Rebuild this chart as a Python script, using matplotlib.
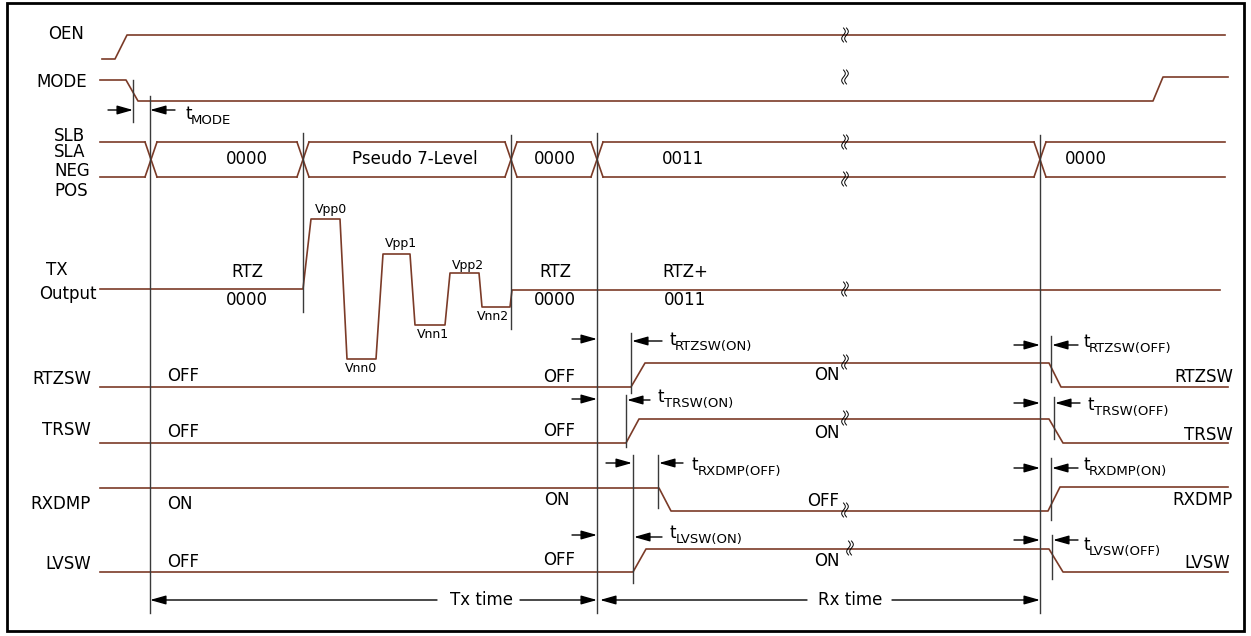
import numpy as np
import matplotlib.pyplot as plt
from matplotlib.patches import Rectangle

plt.rcParams['font.family'] = ['DejaVu Sans']

SIG = '#7b3b28'
GRID = '#3a3a3a'
FS = 12

# ---- waveforms (pixel-ish timing units, y grows downward) ----
oen_x = [102, 115, 127, 1225]
oen_y = [59, 59, 35, 35]
mode_x = [100, 126, 138, 1153, 1163, 1228]
mode_y = [80, 80, 101, 101, 77, 77]

bus_edges = [151, 303, 511, 597, 1040]
bus_labels = ['0000', 'Pseudo 7-Level', '0000', '0011', '0000']
bus_label_x = [247, 415, 555, 683, 1086]
bus_start, bus_end = 100, 1225
bus_top, bus_bot = 142, 177

tx_x = [100, 303, 311, 340, 347, 376, 383, 410, 415, 445, 450, 479, 482, 510, 512, 1220]
tx_y = [289, 289, 219, 219, 359, 359, 254, 254, 325, 325, 273, 273, 307, 307, 290, 290]
lvl_names = ['Vpp0', 'Vnn0', 'Vpp1', 'Vnn1', 'Vpp2', 'Vnn2']
lvl_x = [331, 361, 401, 433, 468, 493]
lvl_y = [209, 369, 243, 335, 265, 316]

rtzsw_x = [100, 631, 645, 1049, 1061, 1228]
rtzsw_y = [387, 387, 363, 363, 387, 387]
trsw_x = [100, 626, 639, 1049, 1063, 1228]
trsw_y = [443, 443, 419, 419, 443, 443]
rxdmp_x = [100, 659, 671, 1048, 1060, 1228]
rxdmp_y = [488, 488, 511, 511, 487, 487]
lvsw_x = [100, 633, 646, 1049, 1063, 1228]
lvsw_y = [572, 572, 549, 549, 572, 572]

# reference / timing lines (x, y0, y1)
vlines = [(133, 80, 122), (150, 96, 613), (303, 133, 312), (511, 135, 329),
          (597, 133, 613), (1040, 135, 613),
          (631, 333, 393), (626, 395, 447), (658, 455, 508), (633, 455, 583),
          (1051, 336, 382), (1054, 397, 439), (1051, 458, 520), (1052, 535, 579)]

# short timing arrows (tail x, head x, y)
arrows = [(108, 133, 110), (175, 150, 110),
          (572, 597, 339), (662, 632, 341),
          (572, 597, 399), (650, 627, 400),
          (606, 632, 463), (683, 659, 463),
          (572, 597, 535), (662, 634, 537),
          (1014, 1040, 345), (1078, 1052, 345),
          (1014, 1040, 403), (1080, 1055, 403),
          (1014, 1040, 468), (1078, 1052, 468),
          (1014, 1040, 540), (1078, 1053, 540)]

# timing parameter labels (x, baseline of t, subscript)
tparams = [(185, 119, 'MODE'),
           (669, 345, 'RTZSW(ON)'), (658, 402, 'TRSW(ON)'),
           (692, 470, 'RXDMP(OFF)'), (670, 538, 'LVSW(ON)'),
           (1083, 347, 'RTZSW(OFF)'), (1088, 410, 'TRSW(OFF)'),
           (1083, 470, 'RXDMP(ON)'), (1083, 550, 'LVSW(OFF)')]

# break marks (x, y)
breaks = [(845, 35), (845, 77), (845, 142), (845, 179), (845, 289),
          (845, 362), (845, 418), (845, 510), (850, 548)]

# left signal names (text, x, y, ha)
sig_names = [('OEN', 48, 34, 'left'), ('MODE', 36, 82, 'left'),
             ('SLB', 54, 136, 'left'), ('SLA', 54, 152, 'left'),
             ('NEG', 54, 171, 'left'), ('POS', 54, 191, 'left'),
             ('TX', 46, 270, 'left'), ('Output', 97, 294, 'right'),
             ('RTZSW', 91, 379, 'right'), ('TRSW', 91, 430, 'right'),
             ('RXDMP', 91, 504, 'right'), ('LVSW', 91, 564, 'right')]

# state labels (text, x, y, ha)
states = [('RTZ', 247, 272, 'center'), ('0000', 247, 300, 'center'),
          ('RTZ', 555, 272, 'center'), ('0000', 555, 300, 'center'),
          ('RTZ+', 685, 272, 'center'), ('0011', 685, 300, 'center'),
          ('OFF', 167, 376, 'left'), ('OFF', 575, 377, 'right'), ('ON', 827, 375, 'center'),
          ('OFF', 167, 432, 'left'), ('OFF', 575, 431, 'right'), ('ON', 827, 433, 'center'),
          ('ON', 167, 504, 'left'), ('ON', 570, 500, 'right'), ('OFF', 823, 501, 'center'),
          ('OFF', 167, 562, 'left'), ('OFF', 575, 560, 'right'), ('ON', 827, 561, 'center'),
          ('RTZSW', 1233, 377, 'right'), ('TRSW', 1233, 435, 'right'),
          ('RXDMP', 1233, 500, 'right'), ('LVSW', 1230, 563, 'right')]

# bottom span arrows
span_y = 600
spans = [(150, 597, 'Tx time', 482, 437, 520), (600, 1040, 'Rx time', 850, 807, 892)]


fig = plt.figure(figsize=(12.51, 6.36), dpi=100)
ax = fig.add_axes([0, 0, 1, 1])
ax.set_xlim(0, 1251)
ax.set_ylim(636, 0)
ax.axis('off')

ax.add_patch(Rectangle((7, 3), 1237, 628, fill=False, ec='black', lw=2))

for xs, ys in [(oen_x, oen_y), (mode_x, mode_y), (tx_x, tx_y), (rtzsw_x, rtzsw_y),
               (trsw_x, trsw_y), (rxdmp_x, rxdmp_y), (lvsw_x, lvsw_y)]:
    ax.plot(xs, ys, color=SIG, lw=1.2)

# bus
hw = 6
starts = [bus_start] + [e + hw for e in bus_edges]
ends = [e - hw for e in bus_edges] + [bus_end]
for s, e in zip(starts, ends):
    ax.plot([s, e], [bus_top, bus_top], color=SIG, lw=1.2)
    ax.plot([s, e], [bus_bot, bus_bot], color=SIG, lw=1.2)
for e in bus_edges:
    ax.plot([e - hw, e + hw], [bus_top, bus_bot], color=SIG, lw=1.2)
    ax.plot([e - hw, e + hw], [bus_bot, bus_top], color=SIG, lw=1.2)
for lab, lx in zip(bus_labels, bus_label_x):
    ax.text(lx, (bus_top + bus_bot) / 2, lab, ha='center', va='center', fontsize=FS)

for n, lx, ly in zip(lvl_names, lvl_x, lvl_y):
    ax.text(lx, ly, n, ha='center', va='center', fontsize=9)

for x, y0, y1 in vlines:
    ax.plot([x, x], [y0, y1], color=GRID, lw=1)

aprops = dict(arrowstyle='-|>,head_length=0.6,head_width=0.17', color='black',
              lw=1, shrinkA=0, shrinkB=0, mutation_scale=16)
for xt, xh, y in arrows:
    ax.annotate('', xy=(xh, y), xytext=(xt, y), arrowprops=aprops)

for x, yb, sub in tparams:
    ax.text(x, yb, 't', ha='left', va='baseline', fontsize=FS)
    ax.text(x + 6, yb + 5, sub, ha='left', va='baseline', fontsize=9.5)

t = np.linspace(0, 1, 30)
for bx, by in breaks:
    for off in (0, 3):
        ax.plot(bx + off - 1.5 + 1.8 * np.sin(2 * np.pi * t), by - 7 + 14 * t,
                color='black', lw=0.7)

for txt, x, y, ha in sig_names + states:
    ax.text(x, y, txt, ha=ha, va='center', fontsize=FS)

for x0, x1, lab, lx, g0, g1 in spans:
    ax.annotate('', xy=(x0, span_y), xytext=(g0, span_y), arrowprops=aprops)
    ax.annotate('', xy=(x1, span_y), xytext=(g1, span_y), arrowprops=aprops)
    ax.text(lx, span_y, lab, ha='center', va='center', fontsize=FS)

fig.savefig('out.png', dpi=100)
